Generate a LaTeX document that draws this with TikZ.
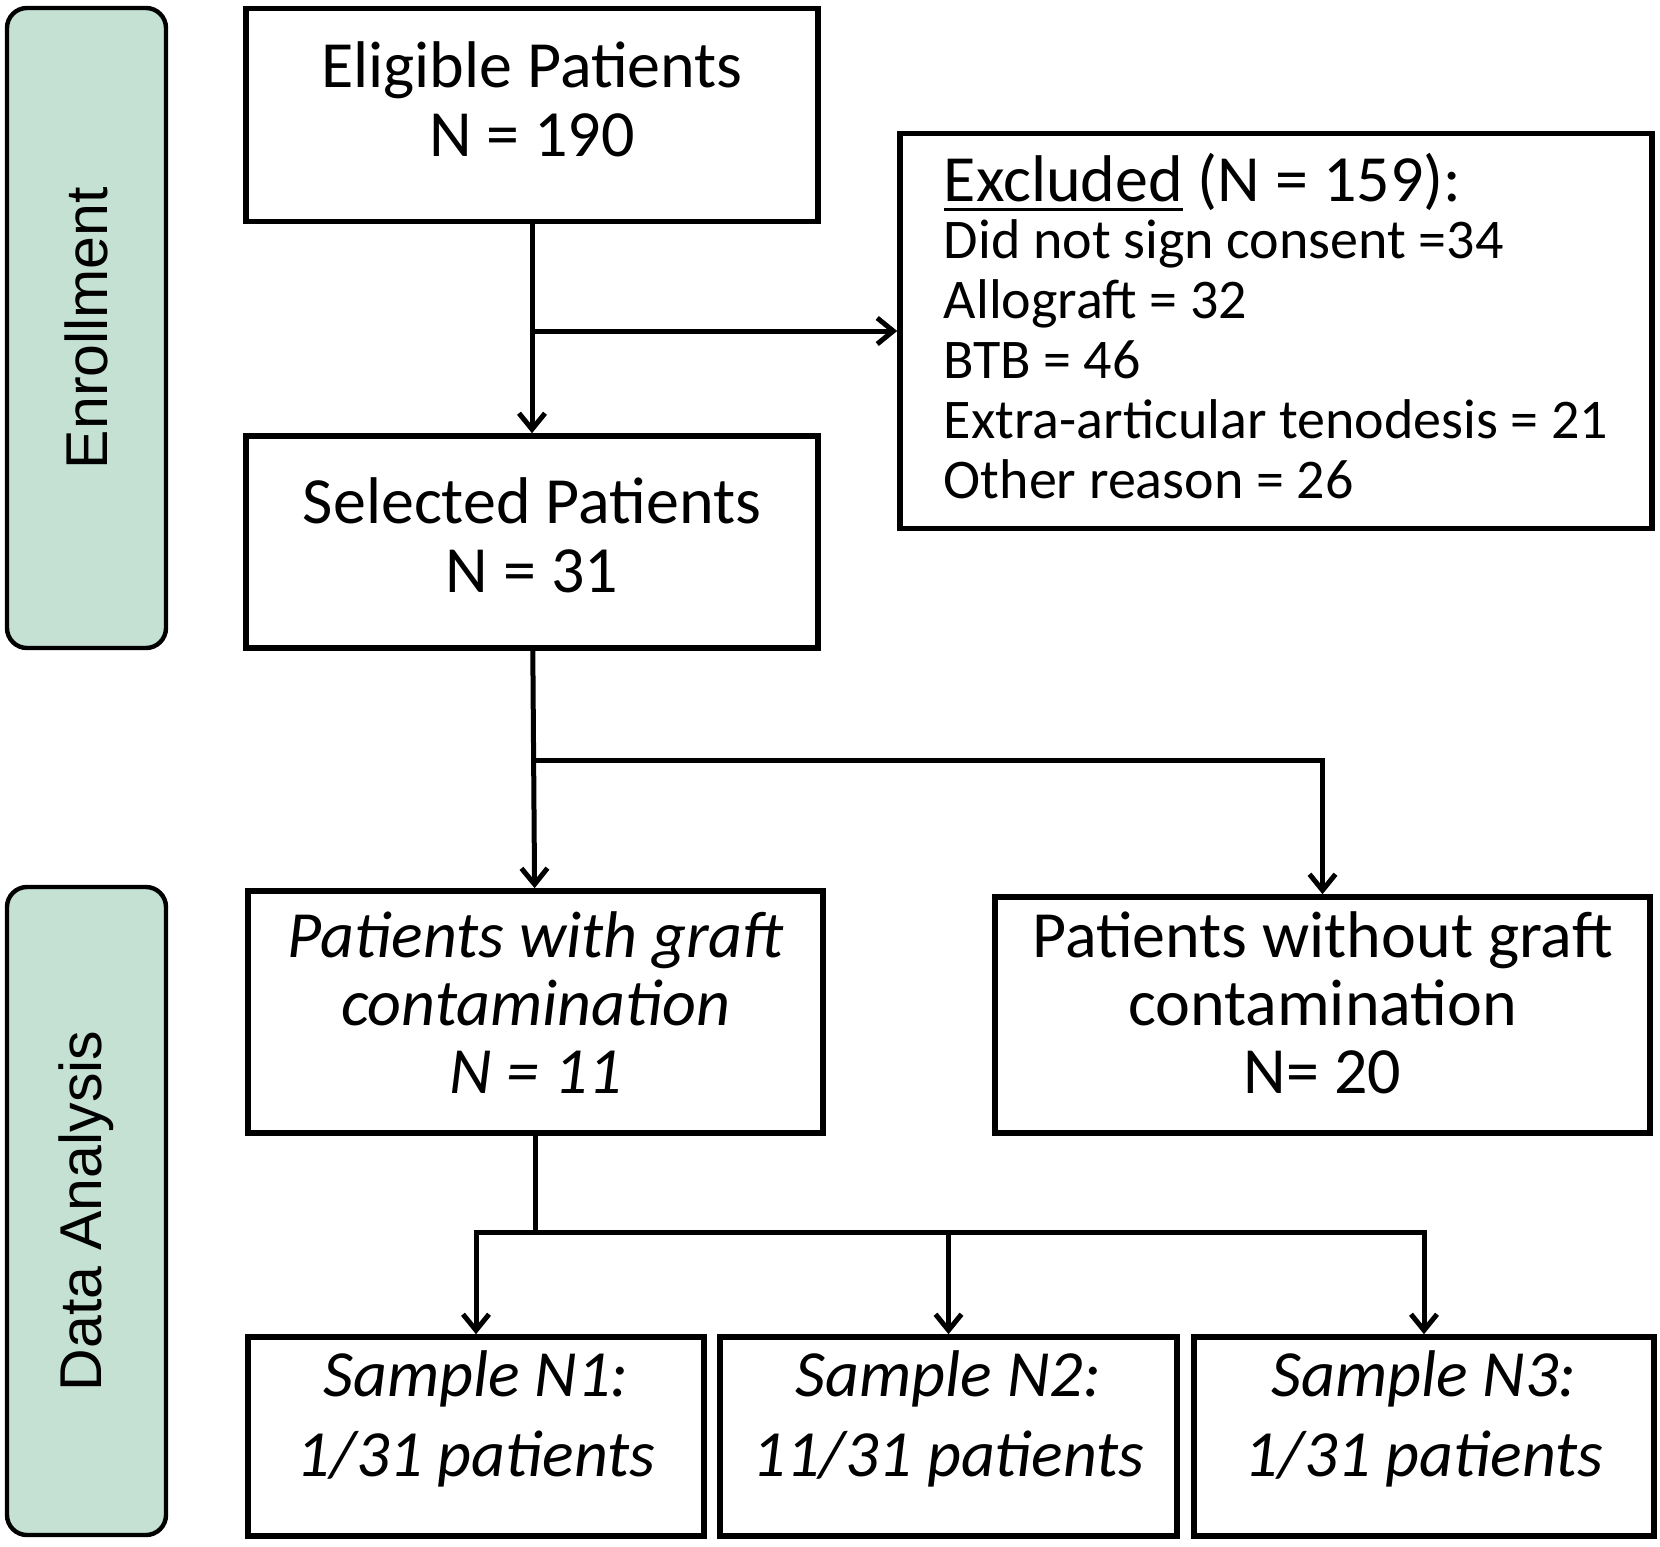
\documentclass[tikz,border=0pt]{standalone}
\usepackage{fontspec}
\setmainfont{Carlito}
\newfontfamily\bandfont{Liberation Sans}
\usepackage{tikz}
\usetikzlibrary{arrows.meta,calc}
\definecolor{bandgreen}{RGB}{196,225,212}
\newcommand{\exclul}[1]{\setbox0\hbox{#1}\rlap{\rule[-5pt]{\wd0}{1.6pt}}\box0\relax}

\begin{document}
\begin{tikzpicture}[x=0.5pt,y=-0.5pt,
	>={Straight Barb[length=8pt,width=13pt]},
	band/.style={rectangle,rounded corners=10pt,draw,line width=2.2pt,fill=bandgreen,
		rotate=90,minimum height=79.5pt,font=\bandfont\fontsize{29.5}{32}\selectfont},
	flowbox/.style={rectangle,draw,line width=2.8pt,align=center,
		font=\fontsize{33}{34.5}\selectfont},
	link/.style={line width=2.5pt}]
	\useasboundingbox (0,0) rectangle (1660,1547);
	\node[band,minimum width=320pt] (enrol) at (86.5,328) {Enrollment};
	\node[band,minimum width=324pt] (analysis) at (86.5,1211) {Data Analysis};
	\node[flowbox,minimum width=286pt,minimum height=106.5pt,text depth=16pt] (elig) at (532,115) {Eligible Patients\\N = 190};
	\node[flowbox,minimum width=376pt,minimum height=197.5pt,align=left,text depth=5.5pt,
	font=\fontsize{28}{30}\selectfont] (excl) at (1276,331) {{\fontsize{33}{30}\selectfont\exclul{Excluded} (N = 159):}\\[-1.5pt]Did not sign consent =34\\Allograft = 32\\BTB = 46\\Extra-articular tenodesis = 21\\Other reason = 26};
	\node[flowbox,minimum width=286pt,minimum height=106pt,text depth=6.5pt] (sel) at (532,542) {Selected Patients\\N = 31};
	\node[flowbox,minimum width=287.5pt,minimum height=121pt,text depth=9.5pt,
	font=\itshape\fontsize{33}{34}\selectfont] (with) at (535.5,1012) {Patients with graft\\contamination\\N = 11};
	\node[flowbox,minimum width=327.5pt,minimum height=118pt,text depth=12.5pt,
	font=\fontsize{33}{34}\selectfont] (without) at (1322.5,1015) {Patients without graft\\contamination\\N= 20};
	\node[flowbox,minimum width=228pt,minimum height=99.5pt,text depth=23pt,
	font=\itshape\fontsize{33}{40}\selectfont] (s1) at (476,1436.5) {Sample N1:\\1/31 patients};
	\node[flowbox,minimum width=228.5pt,minimum height=99.5pt,text depth=23pt,
	font=\itshape\fontsize{33}{40}\selectfont] (s2) at (948.5,1436.5) {Sample N2:\\11/31 patients};
	\node[flowbox,minimum width=230pt,minimum height=99.5pt,text depth=23pt,
	font=\itshape\fontsize{33}{40}\selectfont] (s3) at (1424,1436.5) {Sample N3:\\1/31 patients};
	\coordinate (split1) at (elig.south |- excl.west);
	\coordinate (split2) at ($(sel.south)!0.46!(with.north)$);
	\coordinate (split3) at ($(with.south)+(0,97)$);
	\draw[link,->] (elig) -- (sel);
	\draw[link,->] (split1) -- (excl);
	\draw[link,->] (sel) -- (with);
	\draw[link,->] (split2) -| (without);
	\draw[link] (with) -- (split3);
	\draw[link,line cap=rect] (s1 |- split3) -- (s3 |- split3);
	\draw[link,->] (s1 |- split3) -- (s1);
	\draw[link,->] (s2 |- split3) -- (s2);
	\draw[link,->] (s3 |- split3) -- (s3);
\end{tikzpicture}
\end{document}
